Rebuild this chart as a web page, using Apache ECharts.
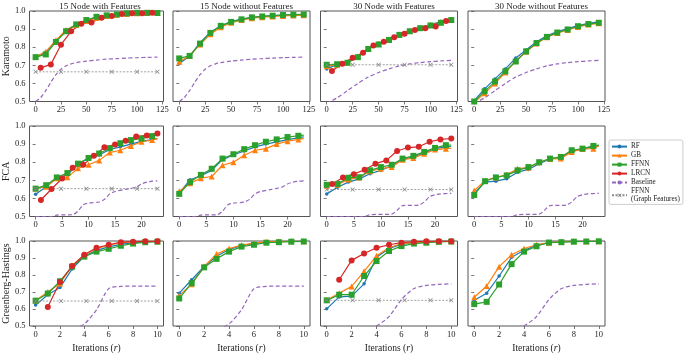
<!DOCTYPE html>
<html><head><meta charset="utf-8">
<script src="https://cdn.jsdelivr.net/npm/echarts@6/dist/echarts.min.js"></script>
<style>html,body{margin:0;padding:0;background:#fff}#c{width:685px;height:354px}</style>
</head><body><div id="c"></div>
<script>
// ---------- titles / labels ----------
const colTitles = ['15 Node with Features','15 Node without Features','30 Node with Features','30 Node without Features'];
const rowNames = ['Karamoto','FCA','Greenberg-Hastings'];
const yTicks = [0.5,0.6,0.7,0.8,0.9,1.0];
const xTicksK = [0,25,50,75,100,125];
const xTicksF = [0,5,10,15,20];
const xTicksG = [0,2,4,6,8,10];

// ---------- x positions ----------
const xK  = [0,10,20,30,40,50,60,70,80,90,100,110,120];
const xKL = [5,15,25,35,45,55,65,75,85,95,105,115];
const xF  = [0,2,4,6,8,10,12,14,16,18,20,22,23];
const xFL = [1,3,5,7,9,11,13,15,17,19,21,23];
const xG  = [0,1,2,3,4,5,6,7,8,9,10];
const xGL = [1,2,3,4,5,6,7,8,9,10];
const xGF_K = [0,25,50,75,100,120];
const xGF_F = [0,4.79,9.58,14.38,19.17,23];
const xGF_G = [0,2.083,4.167,6.25,8.333,10];

// ---------- Karamoto ----------
const K15F_RF   = [0.742,0.772,0.835,0.893,0.925,0.948,0.965,0.975,0.981,0.986,0.989,0.991,0.992];
const K15F_GB   = [0.748,0.775,0.838,0.895,0.922,0.945,0.962,0.972,0.979,0.984,0.987,0.989,0.990];
const K15F_FFNN = [0.745,0.760,0.829,0.888,0.926,0.950,0.968,0.976,0.981,0.987,0.990,0.990,0.989];
const K15F_LRCN = [0.686,0.705,0.814,0.888,0.929,0.937,0.963,0.972,0.983,0.987,0.987,0.990];
const K15N_RF   = [0.710,0.750,0.825,0.882,0.918,0.942,0.955,0.965,0.970,0.974,0.977,0.979,0.980];
const K15N_GB   = [0.720,0.752,0.815,0.872,0.910,0.935,0.950,0.960,0.966,0.970,0.973,0.975,0.976];
const K15N_FFNN = [0.738,0.752,0.820,0.879,0.918,0.940,0.954,0.965,0.970,0.974,0.978,0.980,0.981];
const K30F_RF   = [0.680,0.705,0.720,0.750,0.795,0.822,0.845,0.872,0.892,0.910,0.925,0.942,0.955];
const K30F_GB   = [0.695,0.703,0.716,0.748,0.792,0.818,0.842,0.870,0.890,0.907,0.922,0.938,0.952];
const K30F_FFNN = [0.703,0.706,0.714,0.745,0.790,0.815,0.840,0.868,0.888,0.905,0.920,0.935,0.950];
const K30F_LRCN = [0.669,0.708,0.742,0.770,0.810,0.830,0.855,0.875,0.895,0.905,0.915,0.945];
const K30N_RF   = [0.505,0.570,0.625,0.680,0.740,0.785,0.830,0.863,0.886,0.903,0.920,0.932,0.940];
const K30N_GB   = [0.495,0.545,0.600,0.660,0.725,0.775,0.820,0.855,0.878,0.895,0.912,0.925,0.932];
const K30N_FFNN = [0.500,0.556,0.610,0.667,0.721,0.777,0.823,0.857,0.881,0.898,0.916,0.928,0.935];
const BK15_X = [0,5,10,15,20,25,30,35,40,50,60,70,80,90,100,110,120];
const BK15_Y = [0.5,0.522,0.56,0.606,0.648,0.678,0.697,0.708,0.715,0.723,0.729,0.734,0.737,0.74,0.742,0.744,0.745];
const BK30_X = [0,10,20,30,40,50,60,70,80,90,100,110,120];
const BK30_Y = [0.49,0.52,0.56,0.60,0.635,0.66,0.68,0.697,0.708,0.715,0.72,0.724,0.727];
const GF_K15 = [0.664,0.664,0.664,0.664,0.664,0.664];
const GF_K30 = [0.703,0.703,0.703,0.703,0.703,0.703];

// ---------- FCA ----------
const F15F_RF   = [0.623,0.664,0.712,0.730,0.790,0.820,0.840,0.870,0.885,0.900,0.915,0.925,0.930];
const F15F_GB   = [0.655,0.665,0.712,0.717,0.766,0.786,0.810,0.853,0.866,0.890,0.913,0.922,0.930];
const F15F_FFNN = [0.654,0.673,0.716,0.740,0.792,0.823,0.848,0.877,0.905,0.922,0.931,0.944,0.950];
const F15F_LRCN = [0.591,0.652,0.710,0.770,0.786,0.835,0.883,0.898,0.918,0.942,0.948,0.959];
const F15N_RF   = [0.630,0.703,0.725,0.755,0.814,0.840,0.862,0.885,0.900,0.912,0.925,0.935,0.940];
const F15N_GB   = [0.640,0.684,0.712,0.721,0.783,0.800,0.838,0.866,0.875,0.900,0.916,0.926,0.930];
const F15N_FFNN = [0.625,0.690,0.730,0.764,0.820,0.844,0.872,0.894,0.913,0.926,0.939,0.946,0.950];
const F30F_RF   = [0.625,0.662,0.690,0.708,0.736,0.755,0.782,0.815,0.829,0.850,0.875,0.885,0.888];
const F30F_GB   = [0.670,0.675,0.705,0.715,0.750,0.764,0.773,0.814,0.823,0.846,0.870,0.875,0.878];
const F30F_FFNN = [0.675,0.680,0.714,0.717,0.755,0.773,0.786,0.820,0.835,0.857,0.879,0.894,0.895];
const F30F_LRCN = [0.680,0.716,0.734,0.758,0.792,0.810,0.862,0.881,0.885,0.913,0.926,0.931];
const F30N_RF   = [0.630,0.690,0.695,0.708,0.745,0.760,0.792,0.818,0.826,0.861,0.870,0.886,0.893];
const F30N_GB   = [0.643,0.699,0.716,0.730,0.764,0.770,0.800,0.818,0.820,0.857,0.873,0.875,0.890];
const F30N_FFNN = [0.619,0.695,0.716,0.727,0.755,0.773,0.800,0.820,0.829,0.866,0.875,0.890,0.895];
const BF15_X = [0,3,4,7,8,9,10,12,13,14,15,17,18,19,20,21,22,23];
const BF15_Y = [0.5,0.5,0.508,0.51,0.53,0.565,0.574,0.58,0.595,0.625,0.638,0.65,0.655,0.662,0.68,0.69,0.695,0.697];
const BF30_X = [0,7,8,12,13,14,17,18,19,20,21,23];
const BF30_Y = [0.5,0.5,0.51,0.513,0.535,0.56,0.563,0.58,0.61,0.62,0.625,0.628];
const GF_F15 = [0.654,0.654,0.654,0.654,0.654,0.654];
const GF_F30 = [0.649,0.649,0.649,0.649,0.649,0.649];

// ---------- Greenberg-Hastings ----------
const G15F_RF   = [0.623,0.684,0.726,0.836,0.910,0.945,0.965,0.980,0.990,0.995,0.998];
const G15F_GB   = [0.650,0.700,0.750,0.855,0.920,0.955,0.975,0.990,0.995,0.998,0.998];
const G15F_FFNN = [0.649,0.691,0.763,0.849,0.908,0.9375,0.954,0.972,0.985,0.993,0.996];
const G15F_LRCN = [0.612,0.759,0.853,0.919,0.960,0.978,0.993,0.996,0.998,0.998];
const G15N_RF   = [0.693,0.772,0.850,0.910,0.950,0.973,0.985,0.993,0.997,0.998,0.999];
const G15N_GB   = [0.680,0.745,0.850,0.923,0.956,0.976,0.987,0.995,0.998,0.998,0.999];
const G15N_FFNN = [0.662,0.752,0.845,0.895,0.9375,0.967,0.978,0.990,0.993,0.996,0.997];
const G30F_RF   = [0.601,0.671,0.676,0.748,0.904,0.956,0.980,0.990,0.995,0.998,0.999];
const G30F_GB   = [0.653,0.693,0.733,0.822,0.913,0.960,0.985,0.990,0.995,0.998,0.999];
const G30F_FFNN = [0.651,0.684,0.684,0.794,0.882,0.941,0.970,0.985,0.990,0.995,0.997];
const G30F_LRCN = [0.772,0.886,0.926,0.960,0.978,0.990,0.996,0.998,0.999,0.999];
const G30N_RF   = [0.651,0.693,0.794,0.904,0.945,0.975,0.990,0.996,0.998,0.998,0.999];
const G30N_GB   = [0.669,0.735,0.849,0.919,0.956,0.978,0.990,0.996,0.998,0.998,0.999];
const G30N_FFNN = [0.629,0.642,0.744,0.864,0.9375,0.969,0.991,0.993,0.996,0.997,0.998];
const BG15_X = [0,1,2,3,4,5,6,7,8,9,10];
const BG15_Y = [0.45,0.46,0.47,0.48,0.512,0.595,0.72,0.733,0.735,0.735,0.735];
const BG30_X = [0,1,2,3,4,5,6,7,8,9,10];
const BG30_Y = [0.42,0.44,0.45,0.46,0.5,0.555,0.656,0.72,0.739,0.745,0.748];
const GF_G15 = [0.647,0.647,0.647,0.647,0.647,0.647];
const GF_G30 = [0.651,0.651,0.651,0.651,0.651,0.651];

// ---------- layout helpers ----------
const FONT = 'Liberation Serif';
const gridLeft = [26.5, 173, 320.5, 468];
const gridW = 137;
const gridTop = [11, 126, 241];
const gridH = 90.5;
const C = {RF:'#1f77b4', GB:'#ff7f0e', FFNN:'#2ca02c', LRCN:'#d62728', BASE:'#9467bd', GF:'#7f7f7f'};
const XSYM = 'path://M0,1.2L1.2,0L5,3.8L8.8,0L10,1.2L6.2,5L10,8.8L8.8,10L5,6.2L1.2,10L0,8.8L3.8,5Z';
const GFNAME = 'FFNN\n(Graph Features)';

const rowCfg = [
  {x:xK, xl:xKL, gfx:xGF_K, ticks:xTicksK, min:-6, max:126, lastNone:false},
  {x:xF, xl:xFL, gfx:xGF_F, ticks:xTicksF, min:-1.15, max:24.15, lastNone:true},
  {x:xG, xl:xGL, gfx:xGF_G, ticks:xTicksG, min:-0.5, max:10.5, lastNone:false}
];
const panelData = [
  [ [K15F_RF,K15F_GB,K15F_FFNN,K15F_LRCN,BK15_X,BK15_Y,GF_K15], [K15N_RF,K15N_GB,K15N_FFNN,null,BK15_X,BK15_Y,null],
    [K30F_RF,K30F_GB,K30F_FFNN,K30F_LRCN,BK30_X,BK30_Y,GF_K30], [K30N_RF,K30N_GB,K30N_FFNN,null,BK30_X,BK30_Y,null] ],
  [ [F15F_RF,F15F_GB,F15F_FFNN,F15F_LRCN,BF15_X,BF15_Y,GF_F15], [F15N_RF,F15N_GB,F15N_FFNN,null,BF15_X,BF15_Y,null],
    [F30F_RF,F30F_GB,F30F_FFNN,F30F_LRCN,BF30_X,BF30_Y,GF_F30], [F30N_RF,F30N_GB,F30N_FFNN,null,BF30_X,BF30_Y,null] ],
  [ [G15F_RF,G15F_GB,G15F_FFNN,G15F_LRCN,BG15_X,BG15_Y,GF_G15], [G15N_RF,G15N_GB,G15N_FFNN,null,BG15_X,BG15_Y,null],
    [G30F_RF,G30F_GB,G30F_FFNN,G30F_LRCN,BG30_X,BG30_Y,GF_G30], [G30N_RF,G30N_GB,G30N_FFNN,null,BG30_X,BG30_Y,null] ]
];

function pairs(xs, ys, lastNone) {
  return xs.map((x, i) => (lastNone && i === xs.length - 1) ? {value:[x, ys[i]], symbol:'none'} : [x, ys[i]]);
}

const grids = [], xAxes = [], yAxes = [], series = [], titles = [];
let gi = 0;
for (let r = 0; r < 3; r++) {
  for (let c = 0; c < 4; c++) {
    const rc = rowCfg[r];
    grids.push({left:gridLeft[c], top:gridTop[r], width:gridW, height:gridH, show:true,
      borderColor:'#555', borderWidth:1, backgroundColor:'transparent', containLabel:false});
    xAxes.push({type:'value', gridIndex:gi, min:rc.min, max:rc.max,
      axisLine:{show:false}, splitLine:{show:false},
      axisTick:{show:true, length:3, lineStyle:{color:'#555', width:0.8}, customValues:rc.ticks},
      axisLabel:{show:true, fontFamily:FONT, fontSize:8.5, color:'#222', margin:4, customValues:rc.ticks},
      name: r === 2 ? 'Iterations ({i|r})' : '', nameLocation:'middle', nameGap:17,
      nameTextStyle:{fontFamily:FONT, fontSize:9.5, color:'#222', rich:{i:{fontFamily:FONT, fontStyle:'italic', fontSize:10, color:'#222'}}}});
    yAxes.push({type:'value', gridIndex:gi, min:0.5, max:1.0, interval:0.1,
      axisLine:{show:false}, splitLine:{show:false},
      axisTick:{show:true, length:3, lineStyle:{color:'#555', width:0.8}},
      axisLabel:{show:c === 0, fontFamily:FONT, fontSize:8.5, color:'#222', margin:4, formatter:v => v.toFixed(1)},
      name: c === 0 ? rowNames[r] : '', nameLocation:'middle', nameGap:16, nameRotate:90,
      nameTextStyle:{fontFamily:FONT, fontSize:10, color:'#222'}});
    const d = panelData[r][c];
    const base = {type:'line', xAxisIndex:gi, yAxisIndex:gi, showAllSymbol:true, clip:true,
      emphasis:{disabled:true}, animation:false, silent:true};
    series.push(Object.assign({}, base, {name:'RF', data:pairs(rc.x, d[0], rc.lastNone),
      symbol:'circle', symbolSize:3.5, lineStyle:{color:C.RF, width:1.2}, itemStyle:{color:C.RF}}));
    series.push(Object.assign({}, base, {name:'GB', data:pairs(rc.x, d[1], rc.lastNone),
      symbol:'triangle', symbolSize:6, lineStyle:{color:C.GB, width:1.2}, itemStyle:{color:C.GB}}));
    series.push(Object.assign({}, base, {name:'FFNN', data:pairs(rc.x, d[2], rc.lastNone),
      symbol:'rect', symbolSize:6, lineStyle:{color:C.FFNN, width:1.2}, itemStyle:{color:C.FFNN}}));
    if (d[3]) series.push(Object.assign({}, base, {name:'LRCN', data:pairs(rc.xl, d[3], false),
      symbol:'circle', symbolSize:6, lineStyle:{color:C.LRCN, width:1.2}, itemStyle:{color:C.LRCN}}));
    series.push(Object.assign({}, base, {name:'Baseline', data:pairs(d[4], d[5], false), smooth:0.25,
      symbol:'none', lineStyle:{color:C.BASE, width:1.2, type:[4,2.5]}, itemStyle:{color:C.BASE}}));
    if (d[6]) series.push(Object.assign({}, base, {name:GFNAME, data:pairs(rc.gfx, d[6], false),
      symbol:XSYM, symbolSize:4.5, lineStyle:{color:'#888', width:0.8, type:[2,1.5]}, itemStyle:{color:'#888'}}));
    if (r === 0) titles.push({text:colTitles[c], left:gridLeft[c] + gridW / 2, top:-2.5, textAlign:'center',
      textStyle:{fontFamily:FONT, fontSize:9, fontWeight:'normal', color:'#222'}});
    gi++;
  }
}

const chart = echarts.init(document.getElementById('c'), null, {renderer:'canvas'});
chart.setOption({
  animation:false,
  backgroundColor:'#fff',
  title:titles,
  grid:grids, xAxis:xAxes, yAxis:yAxes, series:series,
  legend:{orient:'vertical', left:609, top:140, data:['RF','GB','FFNN','LRCN','Baseline',GFNAME],
    itemWidth:15, itemHeight:5, itemGap:1.8, padding:[3,3,2,2], borderColor:'#ccc', borderWidth:1, borderRadius:2,
    backgroundColor:'#fff', selectedMode:false,
    textStyle:{fontFamily:FONT, fontSize:7.2, color:'#222', lineHeight:7.2, padding:[0,0,0,-1]}}
});
</script></body></html>
